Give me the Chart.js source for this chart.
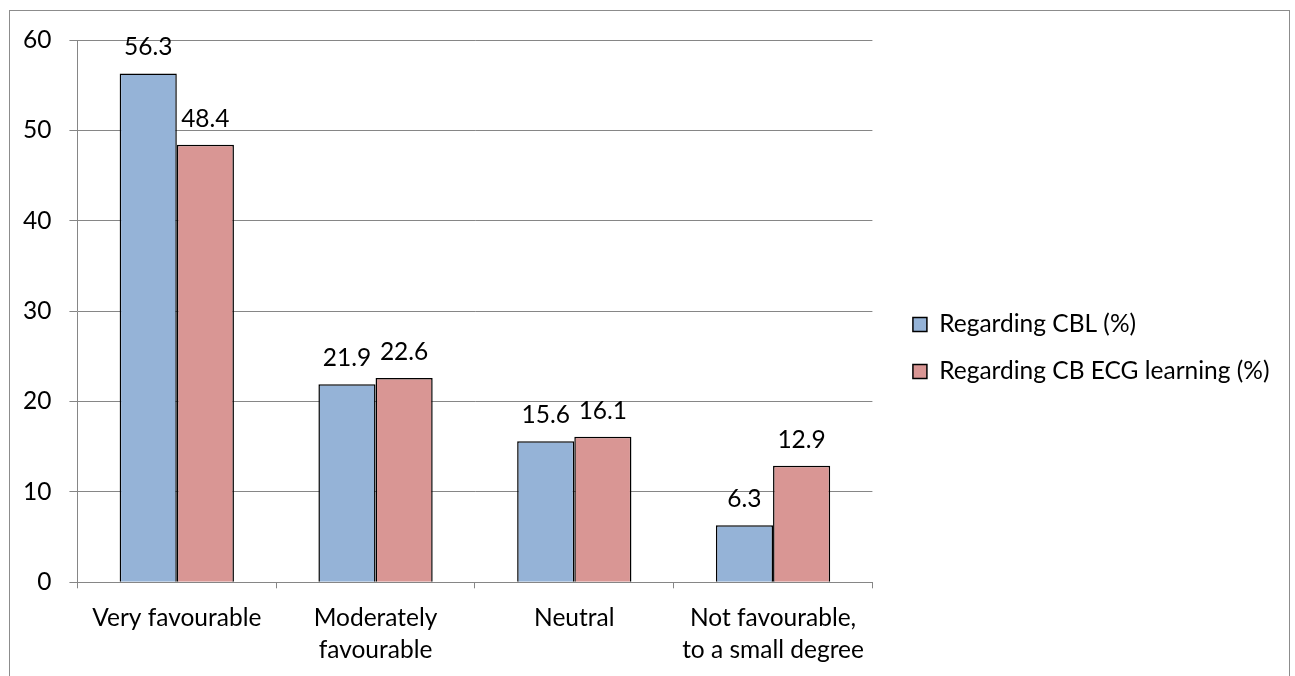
<!DOCTYPE html>
<html>
<head>
<meta charset="utf-8">
<script src="https://cdn.jsdelivr.net/npm/chart.js@4"></script>
<style>
  html, body { margin: 0; padding: 0; background: #fff; overflow: hidden; }
  #wrap { position: relative; width: 1295px; height: 676px; overflow: hidden; }
  #frame {
    position: absolute; left: 9px; top: 10px; width: 1281px; height: 700px;
    border: 1px solid #8c8c8c; box-sizing: border-box; pointer-events: none;
  }
  canvas { position: absolute; left: 0; top: 0; }
</style>
</head>
<body>
<div id="wrap">
  <canvas id="opinionChart" width="1295" height="680"></canvas>
  <div id="frame"></div>
</div>
<script>
const categories = [
  'Very favourable',
  ['Moderately', 'favourable'],
  'Neutral',
  ['Not favourable,', 'to a small degree']
];
const cblValues = [56.3, 21.9, 15.6, 6.3];
const ecgValues = [48.4, 22.6, 16.1, 12.9];
const yTicks = [0, 10, 20, 30, 40, 50, 60];

const FONT = 'Lato, "Open Sans", sans-serif';
const FONT_SIZE = 24.5;
const AXIS_GREY = '#868686';

// value printed centred above each bar
const barValueLabels = {
  id: 'barValueLabels',
  afterDatasetsDraw(chart) {
    const ctx = chart.ctx;
    ctx.save();
    ctx.font = FONT_SIZE + 'px ' + FONT;
    ctx.fillStyle = '#000';
    ctx.textAlign = 'center';
    ctx.textBaseline = 'alphabetic';
    chart.data.datasets.forEach((ds, i) => {
      chart.getDatasetMeta(i).data.forEach((bar, j) => {
        ctx.fillText(ds.data[j].toFixed(1), bar.x, bar.y - 18);
      });
    });
    ctx.restore();
  }
};

// move the legend a bit right of the plot and up
const legendNudge = {
  id: 'legendNudge',
  afterLayout(chart) {
    const lg = chart.legend;
    lg.left += 18;
    lg.right += 18;
    lg.top -= 12;
    lg.bottom -= 12;
  }
};

const ctx = document.getElementById('opinionChart').getContext('2d');

new Chart(ctx, {
  type: 'bar',
  data: {
    labels: categories,
    datasets: [{
      label: 'Regarding CBL (%)',
      data: cblValues,
      backgroundColor: '#95b3d7',
      borderColor: '#000',
      borderWidth: 1.5
    }, {
      label: 'Regarding CB ECG learning (%)',
      data: ecgValues,
      backgroundColor: '#d99694',
      borderColor: '#000',
      borderWidth: 1.5
    }]
  },
  options: {
    responsive: false,
    animation: false,
    layout: {
      padding: { left: 5, top: 40, right: 33.5, bottom: 0 }
    },
    datasets: {
      bar: { categoryPercentage: 0.575, barPercentage: 1 }
    },
    plugins: {
      legend: {
        position: 'right',
        maxWidth: 420,
        labels: {
          boxWidth: 14,
          boxHeight: 14,
          padding: 22.5,
          color: '#000',
          font: { family: FONT, size: FONT_SIZE }
        }
      },
      tooltip: { enabled: false }
    },
    scales: {
      x: {
        grid: {
          offset: true,
          drawOnChartArea: false,
          tickLength: 6,
          color: AXIS_GREY
        },
        border: { color: AXIS_GREY },
        ticks: {
          color: '#000',
          padding: 14,
          maxRotation: 0,
          autoSkip: false,
          font: { family: FONT, size: FONT_SIZE, lineHeight: 1.3 }
        }
      },
      y: {
        min: 0,
        max: 60,
        afterBuildTicks(axis) {
          axis.ticks = yTicks.map(v => ({ value: v }));
        },
        grid: { color: AXIS_GREY, tickLength: 8 },
        border: { color: AXIS_GREY },
        ticks: {
          color: '#000',
          padding: 18,
          font: { family: FONT, size: FONT_SIZE }
        }
      }
    }
  },
  plugins: [barValueLabels, legendNudge]
});
</script>
</body>
</html>
